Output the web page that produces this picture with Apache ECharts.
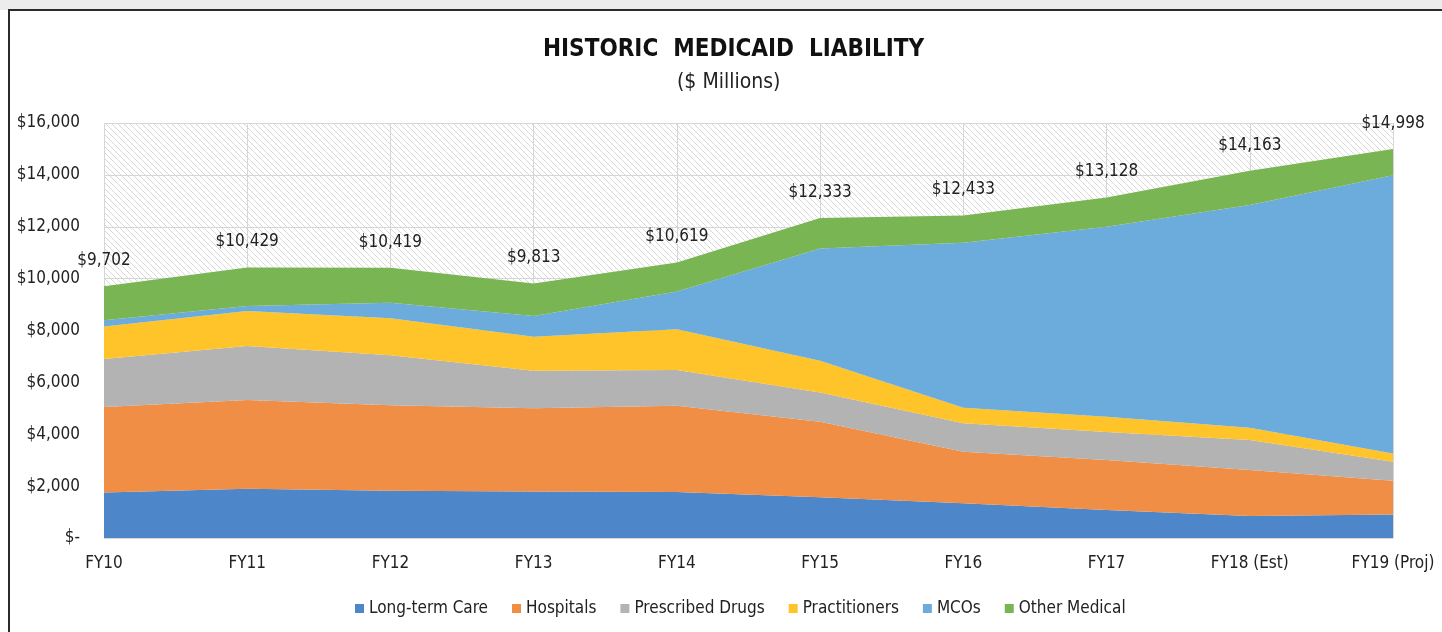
<!DOCTYPE html>
<html>
<head>
<meta charset="utf-8">
<script src="https://cdn.jsdelivr.net/npm/echarts@6/dist/echarts.min.js"></script>
<style>
  html, body { margin: 0; padding: 0; background: #fff; }
  #main { position: absolute; left: 0; top: 0; width: 1442px; height: 632px; }
  .strip { position: absolute; left: 0; top: 0; width: 1442px; height: 10px; background: #ececec; }
  .frame { position: absolute; left: 8px; top: 9px; width: 1440px; height: 640px;
           border: 2px solid #2a2a2a; pointer-events: none; box-sizing: border-box; }
</style>
</head>
<body>
<div class="strip"></div>
<div id="main"></div>
<div class="frame"></div>
<script>
// 年度
const years = ['FY10', 'FY11', 'FY12', 'FY13', 'FY14', 'FY15', 'FY16', 'FY17', 'FY18 (Est)', 'FY19 (Proj)'];

// 各项支出（百万美元）
const longTermCare = [1750, 1900, 1820, 1790, 1770, 1570, 1340, 1080, 850, 910];
const hospitals = [3300, 3420, 3300, 3210, 3330, 2910, 1990, 1930, 1770, 1300];
const prescribedDrugs = [1850, 2080, 1930, 1450, 1380, 1130, 1090, 1080, 1160, 730];
const practitioners = [1250, 1350, 1420, 1310, 1570, 1220, 600, 580, 470, 320];
const mcos = [250, 190, 600, 800, 1450, 4330, 6360, 7330, 8590, 10730];
const otherMedical = [1302, 1489, 1349, 1253, 1119, 1173, 1053, 1128, 1323, 1008];

// 合计标签
const totals = [9702, 10429, 10419, 9813, 10619, 12333, 12433, 13128, 14163, 14998];

const FONT = "'Liberation Sans Narrow', 'DejaVu Sans Condensed', 'Open Sans', sans-serif";

// 斜线底纹
function makeHatch() {
  const c = document.createElement('canvas');
  c.width = 6;
  c.height = 6;
  const ctx = c.getContext('2d');
  ctx.fillStyle = '#ffffff';
  ctx.fillRect(0, 0, 6, 6);
  ctx.strokeStyle = '#d8d8d8';
  ctx.lineWidth = 1;
  ctx.beginPath();
  ctx.moveTo(-1, -1); ctx.lineTo(7, 7);
  ctx.moveTo(-4, 2); ctx.lineTo(4, 10);
  ctx.moveTo(2, -4); ctx.lineTo(10, 4);
  ctx.stroke();
  return c;
}

function money(v) {
  if (v === 0) return '$-';
  return '$' + v.toLocaleString('en-US');
}

const chart = echarts.init(document.getElementById('main'));

function area(name, data, color) {
  return {
    name: name,
    type: 'line',
    stack: 'total',
    data: data,
    symbol: 'none',
    lineStyle: { width: 0 },
    itemStyle: { color: color },
    areaStyle: { color: color, opacity: 1 }
  };
}

const series = [
  area('Long-term Care', longTermCare, '#4e87c9'),
  area('Hospitals', hospitals, '#f18e46'),
  area('Prescribed Drugs', prescribedDrugs, '#b3b3b3'),
  area('Practitioners', practitioners, '#fec42a'),
  area('MCOs', mcos, '#6cacdc'),
  area('Other Medical', otherMedical, '#7ab554')
];
// 顶层显示合计
series[5].symbol = 'circle';
series[5].symbolSize = 0.1;
series[5].showSymbol = true;
series[5].label = {
  show: true,
  position: 'top',
  distance: 17,
  fontFamily: FONT,
  fontSize: 17,
  color: '#222',
  formatter: p => money(totals[p.dataIndex])
};

chart.setOption({
  animation: false,
  title: [{
    text: 'HISTORIC  MEDICAID  LIABILITY',
    left: 538,
    top: 33,
    textStyle: { fontFamily: FONT, fontSize: 24, fontWeight: 'bold', color: '#111' }
  }, {
    text: '($ Millions)',
    left: 672,
    top: 67,
    textStyle: { fontFamily: FONT, fontSize: 21, fontWeight: 'normal', color: '#222' }
  }],
  legend: {
    bottom: 10,
    left: 350,
    itemWidth: 9,
    itemHeight: 9,
    itemGap: 24,
    icon: 'rect',
    textStyle: { fontFamily: FONT, fontSize: 17, color: '#222' },
    data: series.map(s => s.name)
  },
  grid: {
    left: 104,
    right: 49,
    top: 123,
    bottom: 94,
    show: true,
    borderWidth: 0,
    backgroundColor: { image: makeHatch(), repeat: 'repeat' }
  },
  xAxis: {
    type: 'category',
    boundaryGap: false,
    data: years,
    axisLine: { show: false },
    axisTick: { show: false },
    axisLabel: { fontFamily: FONT, fontSize: 17, color: '#222', margin: 17 },
    splitLine: { show: true, lineStyle: { color: '#d6d6d6', width: 1 } }
  },
  yAxis: {
    type: 'value',
    min: 0,
    max: 16000,
    interval: 2000,
    axisLine: { show: false },
    axisTick: { show: false },
    axisLabel: { fontFamily: FONT, fontSize: 17, color: '#222', margin: 24, formatter: money },
    splitLine: { lineStyle: { color: '#d6d6d6', width: 1 } }
  },
  series: series
});
</script>
</body>
</html>
